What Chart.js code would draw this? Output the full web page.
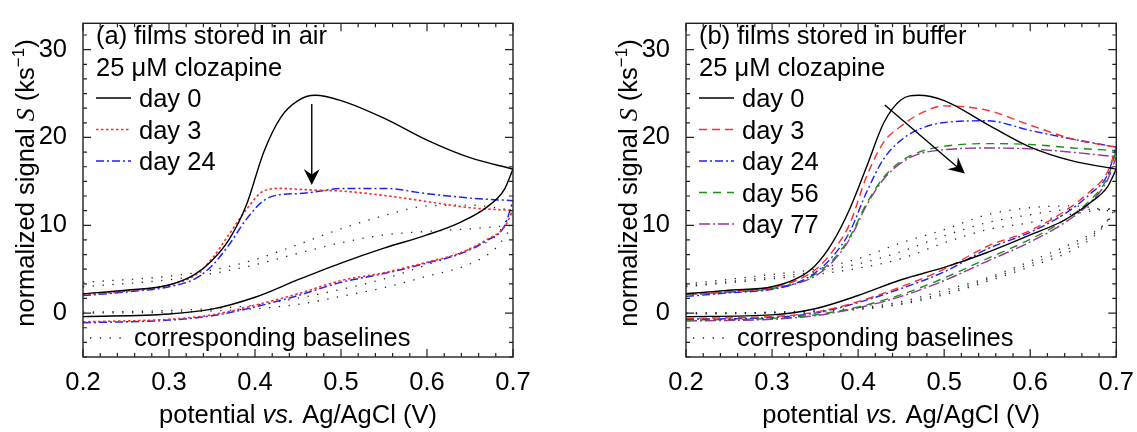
<!DOCTYPE html>
<html>
<head>
<meta charset="utf-8">
<script src="https://cdn.jsdelivr.net/npm/chart.js@4.4.1/dist/chart.umd.min.js"></script>
<style>
  html, body { margin: 0; padding: 0; background: #fff; }
  #wrap { position: relative; width: 1137px; height: 432px; }
  .panel { position: absolute; top: 0; height: 432px; }
  #left { left: 0; width: 560px; }
  #right { left: 560px; width: 577px; }
</style>
</head>
<body>
<div id="wrap">
  <div class="panel" id="left"><canvas id="airChart"></canvas></div>
  <div class="panel" id="right"><canvas id="bufferChart"></canvas></div>
</div>
<script>
// Potential grids (V): forward sweep and return sweep, both ascending
const potUp = [0.2, 0.25, 0.3, 0.33, 0.35, 0.37, 0.39, 0.41, 0.43, 0.45, 0.47, 0.5, 0.55, 0.6, 0.65, 0.7];
const potDown = [0.2, 0.3, 0.35, 0.4, 0.45, 0.5, 0.55, 0.6, 0.64, 0.67, 0.69, 0.7];
const baseUp = [0.2, 0.3, 0.35, 0.4, 0.45, 0.5, 0.55, 0.6, 0.65, 0.7];
const baseDown = [0.2, 0.3, 0.4, 0.45, 0.5, 0.55, 0.6, 0.65, 0.68, 0.7];

const xTicks = [0.2, 0.3, 0.4, 0.5, 0.6, 0.7];
const yTicks = [0, 10, 20, 30];

// (a) films stored in air
const airLabels = ['day 0', 'day 3', 'day 24'];
const airDay0Up = [2.2, 2.6, 3.2, 4.4, 6.0, 8.4, 12.3, 18.3, 22.3, 24.2, 24.8, 24.2, 22.2, 19.7, 17.7, 16.4];
const airDay0Down = [-0.4, -0.1, 0.45, 1.8, 3.8, 5.7, 7.4, 8.9, 10.4, 12.1, 14.1, 16.4];
const airDay3Up = [2.1, 2.5, 3.2, 4.3, 6.2, 9.0, 11.8, 13.9, 14.2, 14.1, 14.0, 13.9, 13.4, 12.7, 12.0, 11.7];
const airDay3Down = [-1.0, -0.7, -0.2, 0.9, 2.2, 3.7, 4.6, 5.8, 6.9, 8.4, 9.8, 11.7];
const airDay24Up = [2.0, 2.4, 3.0, 3.9, 5.4, 7.8, 10.7, 12.8, 13.5, 13.6, 13.8, 14.2, 14.2, 13.6, 13.1, 12.8];
const airDay24Down = [-1.1, -0.8, -0.3, 0.7, 2.0, 3.5, 4.5, 5.7, 6.8, 8.3, 9.9, 12.8];
const airBase1Up = [3.5, 4.2, 4.9, 6.1, 7.8, 9.6, 11.1, 12.2, 12.3, 11.7];
const airBase1Down = [0.1, 0.3, 0.9, 1.7, 2.7, 3.9, 5.5, 7.3, 8.8, 11.7];
const airBase2Up = [3.0, 3.8, 4.5, 5.5, 6.8, 8.0, 8.9, 9.3, 9.6, 10.0];
const airBase2Down = [0.0, 0.1, 0.5, 1.0, 1.9, 2.9, 4.2, 5.6, 7.4, 10.0];
const airArrow = [[0.466, 23.8], [0.466, 14.6]];

// (b) films stored in buffer
const bufLabels = ['day 0', 'day 3', 'day 24', 'day 56', 'day 77'];
const bufDay0Up = [2.2, 2.6, 3.0, 4.0, 5.4, 8.0, 11.8, 16.7, 21.7, 24.3, 24.8, 24.2, 21.5, 18.9, 17.3, 16.4];
const bufDay0Down = [-0.4, -0.2, 0.5, 2.0, 3.8, 5.2, 6.9, 8.9, 10.6, 12.6, 14.4, 16.4];
const bufDay3Up = [2.2, 2.5, 2.9, 3.8, 4.9, 7.0, 10.1, 15.6, 19.5, 21.3, 22.6, 23.6, 23.1, 21.4, 19.8, 18.9];
const bufDay3Down = [-0.6, -0.4, 0.1, 1.3, 3.0, 5.0, 7.6, 9.4, 11.6, 13.9, 16.1, 18.9];
const bufDay24Up = [1.9, 2.3, 2.7, 3.5, 4.6, 6.4, 9.2, 13.8, 17.6, 19.7, 20.9, 21.7, 21.9, 20.8, 19.8, 18.9];
const bufDay24Down = [-0.7, -0.5, 0.0, 1.2, 2.8, 4.7, 7.3, 9.2, 11.3, 13.6, 15.8, 18.9];
const bufDay56Up = [2.1, 2.4, 2.8, 3.5, 4.4, 6.0, 8.6, 12.5, 15.5, 17.3, 18.3, 19.0, 19.3, 19.2, 18.8, 18.5];
const bufDay56Down = [-0.8, -0.6, -0.2, 0.7, 2.1, 4.0, 6.2, 8.4, 10.6, 12.9, 15.5, 18.5];
const bufDay77Up = [2.1, 2.4, 2.8, 3.4, 4.2, 5.8, 8.4, 12.3, 15.3, 17.1, 18.1, 18.6, 18.8, 18.7, 18.3, 17.8];
const bufDay77Down = [-0.9, -0.7, -0.3, 0.6, 1.9, 3.7, 5.9, 8.1, 10.3, 12.6, 15.2, 17.8];
const bufBase1Up = [3.3, 4.4, 5.0, 6.2, 8.0, 9.5, 11.2, 12.0, 12.2, 11.5];
const bufBase1Down = [0.0, 0.1, 0.6, 1.3, 2.6, 4.0, 5.9, 8.0, 9.6, 11.5];
const bufBase2Up = [3.0, 3.9, 4.4, 5.1, 6.2, 8.0, 9.5, 10.3, 11.3, 12.0];
const bufBase2Down = [-0.1, 0.0, 0.4, 1.0, 2.1, 3.6, 5.3, 7.2, 9.3, 12.0];
const bufBase3Up = [3.1, 4.1, 4.7, 5.6, 7.0, 8.8, 10.3, 11.2, 11.8, 11.8];
const bufBase3Down = [0.0, 0.1, 0.5, 1.1, 2.3, 3.8, 5.6, 7.6, 9.5, 11.8];
const bufArrow = [[0.431, 23.7], [0.524, 15.9]];

const FONT = "'Liberation Sans', Arial, sans-serif";
const SIZE = 25.5;

function pts(xs, ys) {
    return xs.map((x, i) => ({ x: x, y: ys[i] }));
}

function curveSets(up, down, style) {
    const base = {
        showLine: true,
        pointRadius: 0,
        borderColor: style.color,
        borderWidth: style.width || 1.4,
        borderDash: style.dash || [],
        cubicInterpolationMode: 'monotone',
        fill: false
    };
    return [
        Object.assign({ data: pts(style.upX || potUp, up) }, base),
        Object.assign({ data: pts(style.downX || potDown, down) }, base)
    ];
}

const baseStyle = { color: '#222', width: 1.3, dash: [1.3, 8.5], upX: baseUp, downX: baseDown };

function drawRich(ctx, parts, x, y, align) {
    let total = 0;
    parts.forEach(p => { ctx.font = p.font; p.w = ctx.measureText(p.t).width; total += p.w; });
    let cx = align === 'center' ? x - total / 2 : x;
    parts.forEach(p => {
        ctx.font = p.font;
        ctx.fillText(p.t, cx, y + (p.dy || 0));
        cx += p.w;
    });
}

function arrow(ctx, x1, y1, x2, y2) {
    const dx = x2 - x1, dy = y2 - y1, L = Math.hypot(dx, dy);
    const ux = dx / L, uy = dy / L, nx = -uy, ny = ux;
    const len = 16, hw = 8;
    ctx.beginPath();
    ctx.moveTo(x1, y1);
    ctx.lineTo(x2 - ux * len * 0.6, y2 - uy * len * 0.6);
    ctx.lineWidth = 1.4;
    ctx.setLineDash([]);
    ctx.stroke();
    ctx.beginPath();
    ctx.moveTo(x2, y2);
    ctx.lineTo(x2 - ux * len + nx * hw, y2 - uy * len + ny * hw);
    ctx.lineTo(x2 - ux * len * 0.65, y2 - uy * len * 0.65);
    ctx.lineTo(x2 - ux * len - nx * hw, y2 - uy * len - ny * hw);
    ctx.closePath();
    ctx.fill();
}

// frame, inward ticks, legend, arrow and axis titles
const panelPlugin = {
    id: 'panelDeco',
    afterDraw(chart, args, opts) {
        const ctx = chart.ctx, a = chart.chartArea;
        const xs = chart.scales.x, ys = chart.scales.y;
        ctx.save();
        ctx.strokeStyle = '#222';
        ctx.fillStyle = '#000';
        ctx.setLineDash([]);
        ctx.lineWidth = 1.4;
        ctx.strokeRect(a.left, a.top, a.right - a.left, a.bottom - a.top);

        ctx.lineWidth = 1.2;
        ctx.beginPath();
        for (let i = 0; i <= 25; i++) {
            const px = xs.getPixelForValue(0.2 + i * 0.02);
            const len = i % 5 === 0 ? 8 : 4;
            ctx.moveTo(px, a.bottom); ctx.lineTo(px, a.bottom - len);
            ctx.moveTo(px, a.top); ctx.lineTo(px, a.top + len);
        }
        for (let k = -3; k <= 19; k++) {
            const py = ys.getPixelForValue(k * 10 / 6);
            const len = k % 6 === 0 ? 8 : 4;
            ctx.moveTo(a.left, py); ctx.lineTo(a.left + len, py);
            ctx.moveTo(a.right, py); ctx.lineTo(a.right - len, py);
        }
        ctx.stroke();

        // legend block
        const f = SIZE + 'px ' + FONT;
        ctx.font = f;
        ctx.textBaseline = 'alphabetic';
        ctx.textAlign = 'left';
        const lx = a.left + 13;
        ctx.fillText(opts.title, lx, 44);
        ctx.fillText(opts.sub, lx, 75.5);
        opts.entries.forEach((e, i) => {
            const by = 107 + 31.5 * i;
            ctx.beginPath();
            ctx.strokeStyle = e.color;
            ctx.lineWidth = e.width || 1.4;
            ctx.setLineDash(e.dash || []);
            ctx.moveTo(lx, by - 9);
            ctx.lineTo(lx + 35, by - 9);
            ctx.stroke();
            ctx.fillText(e.label, lx + 43, by);
        });
        ctx.beginPath();
        ctx.strokeStyle = baseStyle.color;
        ctx.lineWidth = baseStyle.width;
        ctx.setLineDash(baseStyle.dash);
        ctx.moveTo(a.left + 7, 338);
        ctx.lineTo(a.left + 41, 338);
        ctx.stroke();
        ctx.fillText('corresponding baselines', a.left + 51, 346);

        // arrow
        ctx.strokeStyle = '#000';
        const p1 = opts.arrow[0], p2 = opts.arrow[1];
        arrow(ctx, xs.getPixelForValue(p1[0]), ys.getPixelForValue(p1[1]),
              xs.getPixelForValue(p2[0]), ys.getPixelForValue(p2[1]));

        // axis titles
        const it = 'italic ' + SIZE + 'px ' + FONT;
        drawRich(ctx, [
            { t: 'potential ', font: f },
            { t: 'vs.', font: it },
            { t: ' Ag/AgCl (V)', font: f }
        ], (a.left + a.right) / 2, 423, 'center');

        ctx.translate(a.left - 49, 183);
        ctx.rotate(-Math.PI / 2);
        drawRich(ctx, [
            { t: 'normalized signal ', font: f },
            { t: 'S', font: "italic 26px 'Liberation Serif', serif" },
            { t: ' (ks', font: f },
            { t: '\u22121', font: '17px ' + FONT, dy: -10 },
            { t: ')', font: f }
        ], 0, 0, 'center');
        ctx.restore();
    }
};

function makeChart(id, curves, baselines, panel, yWidth, rightPad) {
    let datasets = [];
    curves.forEach(c => { datasets = datasets.concat(curveSets(c.up, c.down, c.style)); });
    baselines.forEach(b => { datasets = datasets.concat(curveSets(b[0], b[1], baseStyle)); });
    panel.entries = curves.map((c, i) => Object.assign({ label: panel.labels[i] }, c.style));
    const ctx = document.getElementById(id).getContext('2d');
    return new Chart(ctx, {
        type: 'scatter',
        data: { datasets: datasets },
        options: {
            responsive: true,
            maintainAspectRatio: false,
            animation: false,
            layout: { padding: { top: 14, right: rightPad, bottom: 0, left: 0 } },
            plugins: {
                legend: { display: false },
                tooltip: { enabled: false },
                panelDeco: panel
            },
            scales: {
                x: {
                    type: 'linear', min: 0.2, max: 0.7,
                    grid: { display: false }, border: { display: false },
                    ticks: {
                        font: { family: FONT, size: SIZE }, color: '#000', padding: 3,
                        maxRotation: 0, autoSkip: false,
                        callback: v => v.toFixed(1)
                    },
                    afterBuildTicks: s => { s.ticks = xTicks.map(v => ({ value: v })); },
                    afterFit: s => { s.height = 75; }
                },
                y: {
                    type: 'linear', min: -5, max: 33,
                    grid: { display: false }, border: { display: false },
                    ticks: {
                        font: { family: FONT, size: SIZE }, color: '#000', padding: 8,
                        callback: v => String(v)
                    },
                    afterBuildTicks: s => { s.ticks = yTicks.map(v => ({ value: v })); },
                    afterFit: s => { s.width = yWidth; }
                }
            }
        },
        plugins: [panelPlugin]
    });
}

const black = { color: '#000', width: 1.4 };

makeChart('airChart', [
    { up: airDay0Up, down: airDay0Down, style: black },
    { up: airDay3Up, down: airDay3Down, style: { color: '#ff2a2a', width: 1.6, dash: [2.5, 2.5] } },
    { up: airDay24Up, down: airDay24Down, style: { color: '#1f1fff', width: 1.5, dash: [8, 3, 2, 3] } }
], [[airBase1Up, airBase1Down], [airBase2Up, airBase2Down]], {
    title: '(a) films stored in air',
    sub: '25 \u03bcM clozapine',
    labels: airLabels,
    arrow: airArrow
}, 83, 47);

makeChart('bufferChart', [
    { up: bufDay0Up, down: bufDay0Down, style: black },
    { up: bufDay3Up, down: bufDay3Down, style: { color: '#ff2a2a', width: 1.4, dash: [8, 5] } },
    { up: bufDay24Up, down: bufDay24Down, style: { color: '#1f1fff', width: 1.4, dash: [8, 3, 2, 3] } },
    { up: bufDay56Up, down: bufDay56Down, style: { color: '#1e8c1e', width: 1.4, dash: [8, 6] } },
    { up: bufDay77Up, down: bufDay77Down, style: { color: '#993399', width: 1.4, dash: [11, 3, 2, 3] } }
], [[bufBase1Up, bufBase1Down], [bufBase2Up, bufBase2Down], [bufBase3Up, bufBase3Down]], {
    title: '(b) films stored in buffer',
    sub: '25 \u03bcM clozapine',
    labels: bufLabels,
    arrow: bufArrow
}, 126, 20);
</script>
</body>
</html>
